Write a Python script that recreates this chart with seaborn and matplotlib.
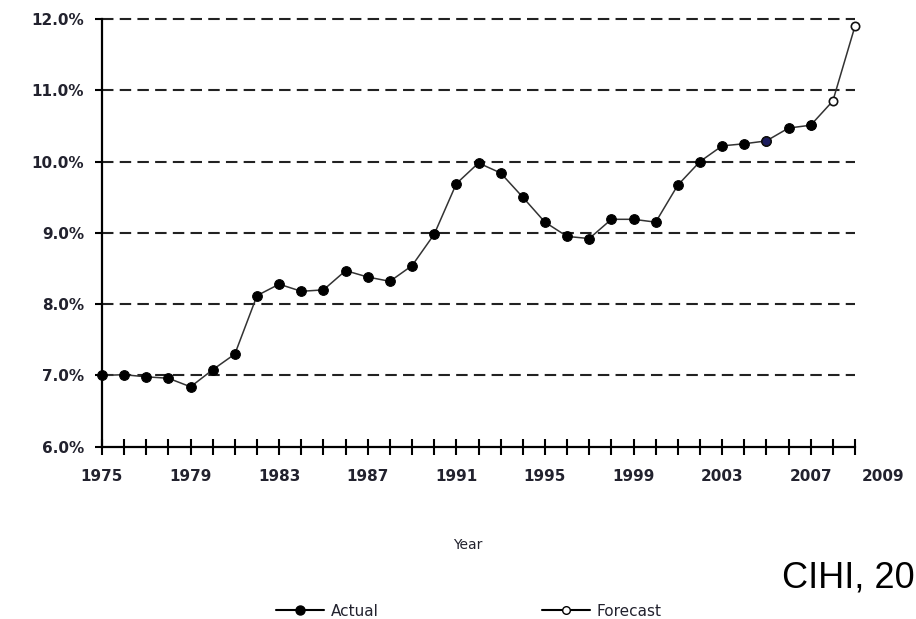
import matplotlib
matplotlib.use("Agg")
import matplotlib.pyplot as plt
import matplotlib.transforms as mtransforms
from matplotlib.lines import Line2D
import seaborn as sns

# ── Dados ───────────────────────────────────────────────────────────────────
anos_real = list(range(1975, 2008))
valores_real = [7.00, 7.01, 6.98, 6.96, 6.84, 7.08, 7.30, 8.12, 8.28, 8.18,
                8.20, 8.47, 8.38, 8.32, 8.54, 8.98, 9.69, 9.98, 9.84, 9.50,
                9.15, 8.95, 8.92, 9.19, 9.19, 9.15, 9.67, 10.00, 10.22, 10.25,
                10.29, 10.47, 10.51]
anos_prev = [2007, 2008, 2009]
valores_prev = [10.51, 10.85, 11.90]
ano_destaque = 2005  # ponto azulado no original

y_ticks = [6, 7, 8, 9, 10, 11, 12]
x_ticks = [1975, 1979, 1983, 1987, 1991, 1995, 1999, 2003, 2007, 2009]

# ── Estilo ──────────────────────────────────────────────────────────────────
sns.set_style("white")
plt.rcParams["font.family"] = ["DejaVu Sans"]
COR_TXT = "#22222e"

fig = plt.figure(figsize=(9.16, 6.19), dpi=100)
ax = fig.add_axes([102 / 916, (619 - 446.7) / 619, 753 / 916, (446.7 - 19) / 619])

# grade tracejada
for v in y_ticks[1:]:
    ax.axhline(v, color="#222222", lw=1.5, ls=(0, (5.5, 3)), zorder=1,
               clip_on=False)

# previsão (desenhada antes para o real ficar por cima em 2007)
sns.lineplot(x=anos_prev, y=valores_prev, ax=ax, color="#333333", lw=1.1,
             marker="o", markersize=6, markerfacecolor="white",
             markeredgecolor="#111111", markeredgewidth=1.2, zorder=3,
             clip_on=False)
sns.lineplot(x=anos_real, y=valores_real, ax=ax, color="#333333", lw=1.1,
             marker="o", markersize=7, markerfacecolor="black",
             markeredgecolor="black", zorder=4, clip_on=False)
i = anos_real.index(ano_destaque)
ax.plot([anos_real[i]], [valores_real[i]], "o", ms=6.5, color="#1c1c5e",
        mec="#111111", zorder=5, clip_on=False)

ax.set_xlim(1975, 2009)
ax.set_ylim(6, 12)
sns.despine(ax=ax, top=True, right=True)
for s in ("left", "bottom"):
    ax.spines[s].set_linewidth(1.6)
    ax.spines[s].set_color("black")
    ax.spines[s].set_zorder(6)

ax.set_xticks(range(1975, 2010), minor=True)
ax.set_xticks(x_ticks)
ax.set_xticklabels([str(a) for a in x_ticks])
ax.tick_params(axis="x", which="both", direction="inout", length=11.5,
               width=1.5, color="black", bottom=True)
ax.tick_params(axis="x", which="major", pad=10, labelsize=11, labelcolor=COR_TXT)
ax.set_yticks(y_ticks)
ax.set_yticklabels([f"{v:.1f}%" for v in y_ticks])
ax.tick_params(axis="y", direction="out", length=5, width=1.5, color="black",
               left=True, pad=8, labelsize=11, labelcolor=COR_TXT)
for lbl in ax.get_xticklabels() + ax.get_yticklabels():
    lbl.set_fontweight("bold")

# rótulo 2009 deslocado para a direita, como no original
ult = ax.get_xticklabels()[-1]
ult.set_transform(ult.get_transform() +
                  mtransforms.ScaledTranslation(28 / 100, 0, fig.dpi_scale_trans))

ax.set_xlabel("")
ax.set_ylabel("")
fig.text(468 / 916, 1 - 545 / 619, "Year", ha="center", va="center",
         fontsize=10, color=COR_TXT)

handles = [
    Line2D([], [], color="black", lw=1.5, marker="o", ms=6.5, mfc="black"),
    Line2D([], [], color="black", lw=1.5, marker="o", ms=5.5, mfc="white"),
]
fig.legend(handles, ["Actual", "Forecast"], loc="center",
           bbox_to_anchor=(469 / 916, 1 - 611 / 619), ncol=2, frameon=False,
           fontsize=11, handlelength=3.1, handletextpad=0.46,
           columnspacing=10.7, labelcolor=COR_TXT,
           borderpad=0, borderaxespad=0)

fig.text(782 / 916, 1 - 588 / 619, "CIHI, 20", ha="left", va="baseline",
         fontsize=26, family="Liberation Sans", color="black")

fig.savefig("out.png", dpi=100)
